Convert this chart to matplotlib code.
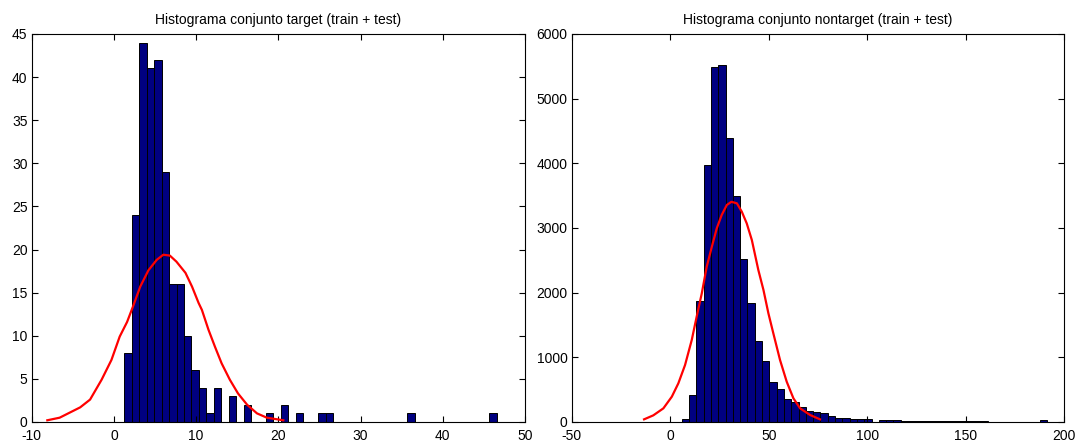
import numpy as np
import matplotlib
matplotlib.use('Agg')
import matplotlib.pyplot as plt

plt.rcParams['font.family'] = ['Liberation Sans', 'DejaVu Sans']
plt.rcParams['axes.unicode_minus'] = False

# --- datos: conjunto target (50 bins) ---
target_lo, target_hi = 1.27, 46.57
target_counts = [8, 24, 44, 41, 42, 29, 16, 16, 10, 6,
                 4, 1, 4, 0, 3, 0, 2, 0, 0, 1,
                 0, 2, 0, 1, 0, 0, 1, 1, 0, 0,
                 0, 0, 0, 0, 0, 0, 0, 0, 1, 0,
                 0, 0, 0, 0, 0, 0, 0, 0, 0, 1]
# curva normal ajustada
target_fit_x = [-8.1, -6.6, -4.1, -2.9, -1.5, -0.3, 0.7, 1.6, 2.4, 3.2, 4.2, 5.2, 6.0,
                6.8, 7.6, 8.7, 9.5, 10.3, 10.7, 11.5, 12.3, 13.1, 14.1, 15.1, 16.2,
                17.4, 18.6, 20.6]
target_fit_y = [0.2, 0.5, 1.7, 2.6, 4.9, 7.2, 9.9, 11.6, 13.6, 15.7, 17.6, 18.8, 19.4,
                19.3, 18.6, 17.3, 15.7, 13.8, 13.0, 10.7, 8.7, 6.8, 4.9, 3.3, 2.0,
                1.0, 0.5, 0.2]

# --- datos: conjunto nontarget (50 bins) ---
nontarget_lo, nontarget_hi = 5.8, 191.1
nontarget_counts = [46, 417, 1871, 3974, 5490, 5525, 4396, 3490, 2520, 1835,
                    1260, 943, 623, 518, 351, 309, 232, 173, 158, 135,
                    97, 62, 62, 41, 41, 41, 5, 31, 31, 31,
                    15, 14, 13, 12, 12, 11, 10, 10, 9, 9,
                    8, 8, 7, 7, 6, 5, 5, 2, 2, 25]
nontarget_fit_x = [-13.3, -8.6, -3.5, 0.8, 4.1, 7.5, 10.9, 13.4, 16.0, 18.5, 21.1,
                   23.6, 26.1, 28.7, 31.0, 33.8, 36.3, 38.8, 41.4, 44.7, 47.3, 49.8,
                   52.3, 55.7, 59.1, 62.5, 65.9, 71.0, 76.0]
nontarget_fit_y = [41, 103, 211, 392, 598, 881, 1268, 1629, 1990, 2402, 2711,
                   2995, 3201, 3356, 3405, 3382, 3252, 3072, 2814, 2350, 2041, 1681,
                   1372, 959, 623, 366, 211, 108, 41]


def dibujar(ax, lo, hi, counts, fx, fy, titulo, xlim, xticks, ylim, yticks):
    edges = np.linspace(lo, hi, len(counts) + 1)
    ax.bar(edges[:-1], counts, width=np.diff(edges), align='edge',
           color='#000080', edgecolor='black', linewidth=0.7)
    ax.plot(fx, fy, '-', color='red', linewidth=1.6, solid_joinstyle='round')
    ax.set_xlim(xlim)
    ax.set_ylim(ylim)
    ax.set_xticks(xticks)
    ax.set_yticks(yticks)
    ax.tick_params(direction='in', top=True, right=True, length=4,
                   width=0.8, labelsize=10)
    ax.tick_params(axis='x', pad=5)
    ax.tick_params(axis='y', pad=3)
    for s in ax.spines.values():
        s.set_linewidth(0.8)
    ax.set_title(titulo, fontsize=10, pad=7)


fig = plt.figure(figsize=(10.8, 4.44), dpi=100)
ax1 = fig.add_axes([0.02935, 0.04955, 0.4568, 0.8739])
ax2 = fig.add_axes([0.5294, 0.04955, 0.4561, 0.8739])

dibujar(ax1, target_lo, target_hi, target_counts, target_fit_x, target_fit_y,
        'Histograma conjunto target (train + test)',
        (-10, 50), range(-10, 51, 10), (0, 45), range(0, 46, 5))
dibujar(ax2, nontarget_lo, nontarget_hi, nontarget_counts, nontarget_fit_x, nontarget_fit_y,
        'Histograma conjunto nontarget (train + test)',
        (-50, 200), range(-50, 201, 50), (0, 6000), range(0, 6001, 1000))

plt.savefig('out.png', dpi=100)
